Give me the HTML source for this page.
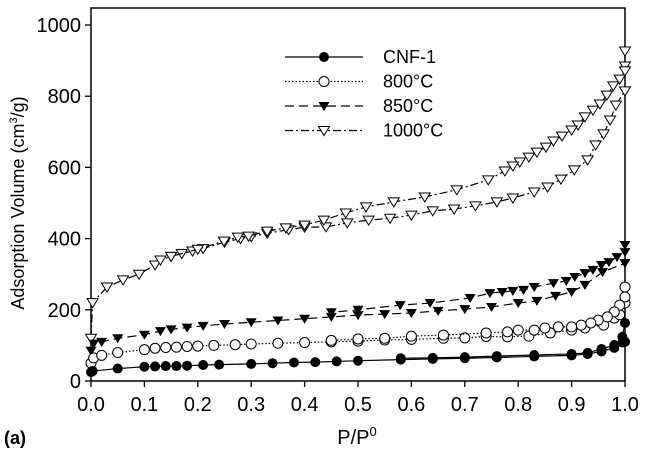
<!DOCTYPE html>
<html><head><meta charset="utf-8"><style>
html,body{margin:0;padding:0;background:#fff;}
svg{display:block;font-family:"Liberation Sans",Arial,sans-serif;}
</style></head><body>
<svg id="chart" width="647" height="464" viewBox="0 0 647 464" xmlns="http://www.w3.org/2000/svg">
<g id="axes"></g><g id="series"></g><g id="legend"></g>
</svg>
<script>
const xTicks=[0,0.1,0.2,0.3,0.4,0.5,0.6,0.7,0.8,0.9,1.0];
const xTickLabels=["0.0","0.1","0.2","0.3","0.4","0.5","0.6","0.7","0.8","0.9","1.0"];
const yTicks=[0,200,400,600,800,1000];
const yTickLabels=["0","200","400","600","800","1000"];
// CNF-1
const cnfAdsX=[0,0.003,0.05,0.1,0.12,0.14,0.16,0.18,0.21,0.24,0.3,0.34,0.38,0.42,0.46,0.5,0.58,0.64,0.7,0.76,0.83,0.9,0.93,0.956,0.98,0.995,1.0];
const cnfAdsY=[25,28,35,40,41,42,42,43,45,46,48,50,52,53,55,57,60,62,64,66,69,72,76,83,93,108,110];
const cnfDesX=[1.0,0.995,0.98,0.956,0.93,0.9,0.83,0.76,0.7,0.64,0.58];
const cnfDesY=[163,124,101,90,79,76,73,70,67,65,64];
// 800C
const c800AdsX=[0,0.005,0.02,0.05,0.1,0.12,0.14,0.16,0.18,0.2,0.23,0.27,0.3,0.35,0.4,0.45,0.5,0.55,0.6,0.66,0.7,0.74,0.78,0.82,0.86,0.9,0.925,0.96,0.98,0.99,1.0];
const c800AdsY=[50,65,72,80,88,92,94,95,97,98,100,102,104,106,108,110,112,115,117,120,121,125,124,126,135,143,149,157,177,186,219];
const c800DesX=[1.0,1.0,0.99,0.98,0.967,0.95,0.936,0.918,0.9,0.875,0.85,0.83,0.8,0.78,0.74,0.66,0.6,0.55,0.5,0.45];
const c800DesY=[264,236,213,194,180,171,163,157,152,152,149,143,143,138,135,129,126,120,118,114];
// 850C
const c850AdsX=[0,0.005,0.02,0.05,0.1,0.13,0.15,0.18,0.21,0.25,0.3,0.35,0.4,0.45,0.5,0.55,0.6,0.65,0.7,0.75,0.8,0.835,0.87,0.9,0.925,0.958,1.0];
const c850AdsY=[85,105,110,120,130,140,145,150,155,160,165,170,175,180,185,188,191,197,202,208,219,225,239,250,270,306,331];
const c850DesX=[1.0,1.0,0.985,0.97,0.956,0.94,0.925,0.906,0.89,0.866,0.83,0.81,0.79,0.77,0.747,0.71,0.635,0.579,0.5,0.45];
const c850DesY=[382,362,348,334,326,312,303,292,281,275,264,256,253,250,247,233,219,213,200,193];
// 1000C
const c1000AdsX=[0,0.003,0.03,0.06,0.09,0.12,0.13,0.15,0.17,0.19,0.21,0.25,0.28,0.3,0.33,0.37,0.4,0.44,0.48,0.52,0.56,0.6,0.64,0.68,0.72,0.76,0.79,0.83,0.855,0.88,0.905,0.93,0.945,0.96,0.972,0.983,1.0];
const c1000AdsY=[120,220,264,284,300,326,340,350,358,365,372,390,400,405,415,425,432,433,444,452,457,466,478,483,492,503,514,531,545,567,593,621,663,694,733,775,815];
const c1000DesX=[1.0,1.0,1.0,0.99,0.978,0.966,0.953,0.94,0.925,0.912,0.9,0.882,0.866,0.852,0.835,0.82,0.803,0.79,0.775,0.744,0.685,0.625,0.567,0.515,0.477,0.436,0.4,0.365,0.33,0.295,0.275,0.249,0.2,0.15];
const c1000DesY=[927,885,871,848,829,803,778,761,742,719,705,688,674,657,643,629,615,604,590,565,537,517,503,489,472,452,438,430,421,407,404,393,370,350];

const X0=91,X1=625,Y0=381,Y1=25;
const sx=v=>X0+(X1-X0)*v;
const sy=v=>Y0+(Y1-Y0)*v/1000;
const NS="http://www.w3.org/2000/svg";
function mk(tag,attrs,parent){const e=document.createElementNS(NS,tag);for(const k in attrs)e.setAttribute(k,attrs[k]);parent.appendChild(e);return e;}
const axes=document.getElementById('axes');
let f=mk('rect',{x:X0,y:8,width:X1-X0,height:Y0-8,fill:'none',stroke:'#000','stroke-width':1.5},axes);


xTicks.forEach((t,i)=>{
 let l=mk('line',{x1:sx(t),x2:sx(t),y1:Y0,y2:Y0+6,stroke:'#000','stroke-width':1.3},axes);
 
 
 let tx=mk('text',{x:sx(t),y:Y0+30,'text-anchor':'middle','font-size':20},axes);tx.textContent=xTickLabels[i];
 
 
});
yTicks.forEach((t,i)=>{
 let l=mk('line',{x1:X0-6,x2:X0,y1:sy(t),y2:sy(t),stroke:'#000','stroke-width':1.3},axes);
 
 
 let tx=mk('text',{x:X0-10,y:sy(t)+7,'text-anchor':'end','font-size':20},axes);tx.textContent=yTickLabels[i];
 
 
});
let xt=mk('text',{x:357,y:444,'text-anchor':'middle','font-size':20},axes);
xt.innerHTML='P/P<tspan dy="-8" font-size="13">0</tspan>';


let yt=mk('text',{x:0,y:0,'text-anchor':'middle','font-size':18,transform:'translate(24,203) rotate(-90)'},axes);
yt.innerHTML='Adsorption Volume (cm<tspan dy="-7" font-size="11">3</tspan><tspan dy="7">/g)</tspan>';


let pa=mk('text',{x:4,y:444,'font-size':18,'font-weight':'bold'},axes);pa.textContent='(a)';



const series=document.getElementById('series');
function marker(g,type,x,y){
 if(type==='fc'){return mk('circle',{cx:x,cy:y,r:5,fill:'#000'},g);}
 if(type==='oc'){return mk('circle',{cx:x,cy:y,r:5,fill:'#fff',stroke:'#000','stroke-width':1},g);}
 if(type==='ft'){return mk('polygon',{points:`${x-5.5},${y-4} ${x+5.5},${y-4} ${x},${y+5}`,fill:'#000'},g);}
 return mk('polygon',{points:`${x-5.5},${y-4} ${x+5.5},${y-4} ${x},${y+5}`,fill:'#fff',stroke:'#000','stroke-width':1},g);
}
function draw(name,xs,ys,dash,type){
 const g=mk('g',{},series);
 
 
 const pts=xs.map((v,i)=>sx(v)+','+sy(ys[i])).join(' ');
 mk('polyline',{points:pts,fill:'none',stroke:'#000','stroke-width':1.2,'stroke-dasharray':dash},g);
 xs.forEach((v,i)=>{const m=marker(g,type,sx(v),sy(ys[i]));
  
  });
}
draw('series-1000c-adsorption',c1000AdsX,c1000AdsY,'8,3,2,3','ot');
draw('series-1000c-desorption',c1000DesX,c1000DesY,'8,3,2,3','ot');
draw('series-850c-adsorption',c850AdsX,c850AdsY,'9,5','ft');
draw('series-850c-desorption',c850DesX,c850DesY,'9,5','ft');
draw('series-800c-adsorption',c800AdsX,c800AdsY,'1.5,2','oc');
draw('series-800c-desorption',c800DesX,c800DesY,'1.5,2','oc');
draw('series-cnf1-adsorption',cnfAdsX,cnfAdsY,'none','fc');
draw('series-cnf1-desorption',cnfDesX,cnfDesY,'none','fc');

const legend=document.getElementById('legend');
const legNames=['CNF-1','800°C','850°C','1000°C'];
const legDash=['none','1.5,2','9,5','8,3,2,3'];
const legType=['fc','oc','ft','ot'];
legNames.forEach((n,i)=>{
 const y=57+i*24.5;
 const g=mk('g',{},legend);
 
 
 mk('line',{x1:285,x2:363,y1:y,y2:y,stroke:'#000','stroke-width':1.2,'stroke-dasharray':legDash[i]},g);
 marker(g,legType[i],324,y);
 const t=mk('text',{x:383,y:y+6,'font-size':18},g);t.textContent=n;
});
</script>
</body></html>
